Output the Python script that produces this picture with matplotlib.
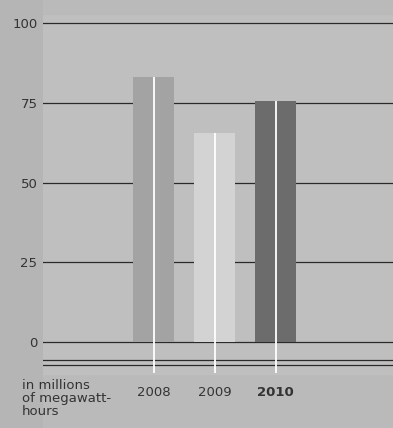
import matplotlib
matplotlib.use("Agg")
import matplotlib.pyplot as plt
from matplotlib.patches import Rectangle

years = ["2008", "2009", "2010"]
values = [83, 65.5, 75.5]
yticks = [0, 25, 50, 75, 100]
bar_colors = ["#a3a3a3", "#d3d3d3", "#6c6c6c"]

W, H = 393, 428
fig = plt.figure(figsize=(W / 100, H / 100), dpi=100, facecolor="#bababa")
fig.patches.append(Rectangle((0, 0), 43 / W, 1, transform=fig.transFigure,
                             facecolor="#b5b5b5", edgecolor="none", zorder=-5))
left, right, top, bottom = 43, 393, 15, 375
ax = fig.add_axes([left / W, 1 - bottom / H, (right - left) / W, (bottom - top) / H])
ax.set_zorder(2)
ax.set_facecolor("#bfbfbf")

ppu = (342 - 23) / 100.0
ax.set_ylim(-(bottom - 342) / ppu, 100 + (23 - top) / ppu)
xu = 61.0
ax.set_xlim(-(153.5 - left) / xu, (right - 153.5) / xu)

for t in yticks:
    ax.axhline(t, color="#2a2a2a", lw=0.9, zorder=1)
for yy in (-(360 - 342) / ppu, -(365 - 342) / ppu):
    ax.axhline(yy, color="#2a2a2a", lw=0.9, zorder=1)

xs = list(range(len(years)))
ax.bar(xs, values, width=41 / xu, color=bar_colors, zorder=2, linewidth=0)
ax.vlines(xs, -(373 - 342) / ppu, values, color="white", lw=1.3, zorder=3)

for s in ax.spines.values():
    s.set_visible(False)
fs = 9.5
ax.set_yticks(yticks)
ax.set_yticklabels([str(t) for t in yticks], fontsize=fs, color="#333333", family="DejaVu Sans")
ax.set_xticks(xs)
ax.set_xticklabels(years, fontsize=fs, color="#333333", family="DejaVu Sans")
ax.tick_params(length=0)
ax.tick_params(axis="y", pad=4)
ax.tick_params(axis="x", pad=8)
ax.get_xticklabels()[2].set_fontweight("bold")

fig.text(22 / W, 1 - 379 / H, "in millions\nof megawatt-\nhours", ha="left", va="top",
         fontsize=fs, color="#333333", linespacing=1.0, family="DejaVu Sans", zorder=5)

fig.savefig("out.png", dpi=100, facecolor=fig.get_facecolor())
